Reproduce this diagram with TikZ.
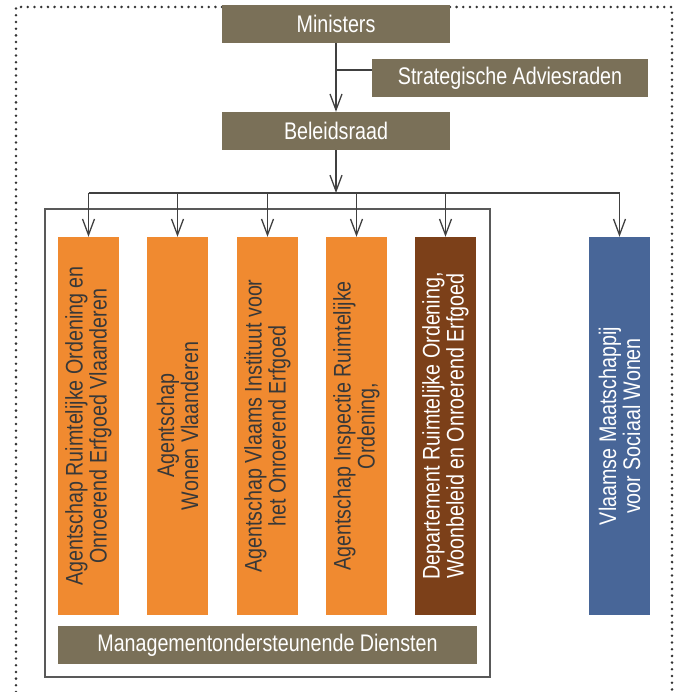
\documentclass[tikz,border=0pt]{standalone}
\usepackage{fontspec}
\setmainfont{Liberation Sans}[FakeStretch=0.82]
\usetikzlibrary{arrows.meta}

\definecolor{taupe}{HTML}{7A7058}
\definecolor{oranje}{HTML}{F08A30}
\definecolor{bruin}{HTML}{7C4019}
\definecolor{blauw}{HTML}{486698}
\definecolor{lijnkleur}{HTML}{404040}
\definecolor{tekst}{HTML}{383838}

\begin{document}
\begin{tikzpicture}[x=1pt,y=-1pt,
    every node/.style={font=\fontsize{24}{24}\selectfont, inner sep=0pt, align=center},
    kop/.style={fill=taupe, text=white, minimum width=228pt, minimum height=38pt},
    kolom/.style={rotate=90, fill=oranje, text=tekst, minimum width=378pt, minimum height=61pt},
    lijn/.style={draw=lijnkleur, line width=1.3pt},
    pijl/.style={lijn, -{Straight Barb[length=16pt,width=12pt]}}]
        \useasboundingbox (0,0) rectangle (676,692);

        \draw[black!80, line width=2.8pt, line cap=round, dash pattern=on 0pt off 6.7pt]
            (16,692) -- (16,7) -- (672,7) -- (672,692);
        \draw[gray!70!black, line width=1.5pt] (45,209) rectangle (490,677);

        \node[kop] (M) at (336,24) {Ministers};
        \node[kop, minimum width=276pt] (SA) at (510,78) {Strategische Adviesraden};
        \node[kop] (B) at (336,131) {Beleidsraad};

        \node[kolom] (ARO) at (88.5,426) {Agentschap Ruimtelijke Ordening en\\Onroerend Erfgoed Vlaanderen};
        \node[kolom] (AW) at (177.5,426) {Agentschap\\Wonen Vlaanderen};
        \node[kolom] (VIOE) at (267.5,426) {Agentschap Vlaams Instituut voor\\het Onroerend Erfgoed};
        \node[kolom] (AI) at (356.5,426) {Agentschap Inspectie Ruimtelijke\\Ordening,};
        \node[kolom, fill=bruin, text=white] (DEP) at (445.5,426) {Departement Ruimtelijke Ordening,\\Woonbeleid en Onroerend Erfgoed};
        \node[kolom, fill=blauw, text=white] (VMSW) at (619.5,426) {Vlaamse Maatschappij\\voor Sociaal Wonen};

        \node[kop, minimum width=419pt] (MD) at (267.5,645) {Managementondersteunende Diensten};

        \coordinate (J) at (336,70);
        \coordinate (bus) at (336,193);

        \draw[pijl] (M) -- (B);
        \draw[lijn] (J) -- (J -| SA.west);
        \draw[pijl] (B) -- (bus);
        \draw[lijn] (ARO |- bus) -- (VMSW |- bus);
        \foreach \k in {ARO,AW,VIOE,AI,DEP,VMSW}
            \draw[pijl] (\k |- bus) -- (\k);
      \end{tikzpicture}
\end{document}
